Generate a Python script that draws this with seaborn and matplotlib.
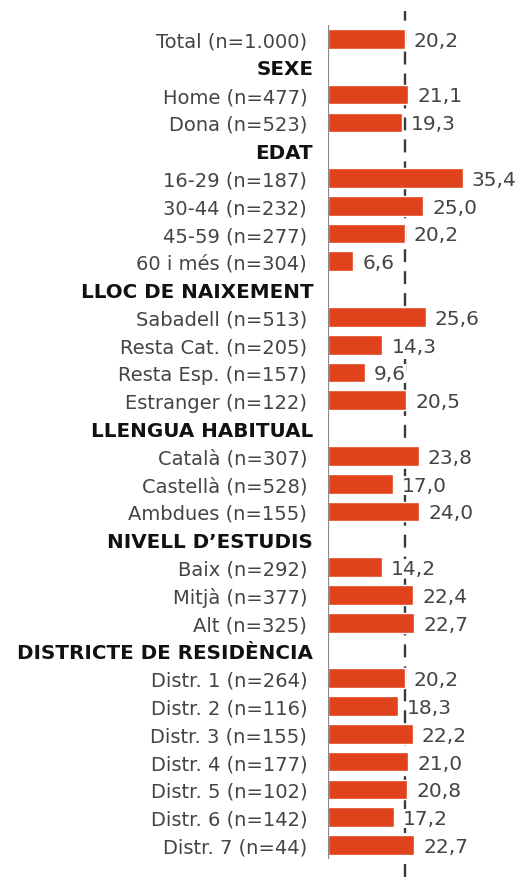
import matplotlib
matplotlib.use("Agg")
import matplotlib.pyplot as plt
import matplotlib.transforms as mtransforms
import numpy as np
import pandas as pd
import seaborn as sns

# Rows of the chart, top to bottom; section headers carry no value
categories = [
    "Total (n=1.000)",
    "SEXE", "Home (n=477)", "Dona (n=523)",
    "EDAT", "16-29 (n=187)", "30-44 (n=232)", "45-59 (n=277)", "60 i més (n=304)",
    "LLOC DE NAIXEMENT", "Sabadell (n=513)", "Resta Cat. (n=205)",
    "Resta Esp. (n=157)", "Estranger (n=122)",
    "LLENGUA HABITUAL", "Català (n=307)", "Castellà (n=528)", "Ambdues (n=155)",
    "NIVELL D’ESTUDIS", "Baix (n=292)", "Mitjà (n=377)", "Alt (n=325)",
    "DISTRICTE DE RESIDÈNCIA", "Distr. 1 (n=264)", "Distr. 2 (n=116)",
    "Distr. 3 (n=155)", "Distr. 4 (n=177)", "Distr. 5 (n=102)",
    "Distr. 6 (n=142)", "Distr. 7 (n=44)",
]
headers = ["SEXE", "EDAT", "LLOC DE NAIXEMENT", "LLENGUA HABITUAL",
           "NIVELL D’ESTUDIS", "DISTRICTE DE RESIDÈNCIA"]
values = [
    20.2,
    np.nan, 21.1, 19.3,
    np.nan, 35.4, 25.0, 20.2, 6.6,
    np.nan, 25.6, 14.3, 9.6, 20.5,
    np.nan, 23.8, 17.0, 24.0,
    np.nan, 14.2, 22.4, 22.7,
    np.nan, 20.2, 18.3, 22.2, 21.0, 20.8, 17.2, 22.7,
]
total_value = 20.2

BAR = "#E0421B"
TEXT = "#444444"

df = pd.DataFrame({"categoria": categories, "valor": values})

sns.set_theme(style="white")
plt.rcParams["font.family"] = ["DejaVu Sans"]

W, H = 523, 878
fig = plt.figure(figsize=(W / 100, H / 100), dpi=100)
ax = fig.add_axes([328 / W, 0, 1 - 328 / W, 1])

sns.barplot(data=df, x="valor", y="categoria", order=categories, orient="h",
            color=BAR, saturation=1, width=0.71, ax=ax, zorder=2,
            err_kws={"linewidth": 0})

n = len(categories)
px_per_unit = 3.81
px_per_row = 27.8
ax.set_xlim(0, (W - 328) / px_per_unit)
ax.set_ylim((n - 1) + (H - 846) / px_per_row, -40 / px_per_row)

# reference line at the overall value, drawn behind the bars
ax.axvline(total_value, ymin=0, ymax=1 - 12 / H, color="#3a3a3a", lw=1.7,
           linestyle=(0, (5.5, 3.8)), zorder=1)
# left axis line
ax.vlines(0, -0.5, n - 0.5, color="#8a8a8a", lw=1.6, zorder=3)

for i, v in enumerate(values):
    if np.isnan(v):
        continue
    ax.annotate(f"{v:.1f}".replace(".", ","), xy=(v, i), xytext=(6.5, -1),
                textcoords="offset points", va="center", ha="left",
                fontsize=14.5, color=TEXT, zorder=4,
                bbox=dict(facecolor="white", edgecolor="none", pad=0))

for s in ax.spines.values():
    s.set_visible(False)
ax.set_xlabel("")
ax.set_ylabel("")
ax.set_xticks([])
ax.set_yticks(range(n))
ax.set_yticklabels(categories)
ax.tick_params(axis="y", length=0, pad=15)

shift = mtransforms.ScaledTranslation(6 / 100, 0, fig.dpi_scale_trans)
for lab in ax.get_yticklabels():
    if lab.get_text() in headers:
        lab.set_fontweight("bold")
        lab.set_fontsize(14.3)
        lab.set_color("#111111")
        lab.set_transform(lab.get_transform() + shift)
    else:
        lab.set_fontsize(14)
        lab.set_color(TEXT)

fig.savefig("out.png", dpi=100)
